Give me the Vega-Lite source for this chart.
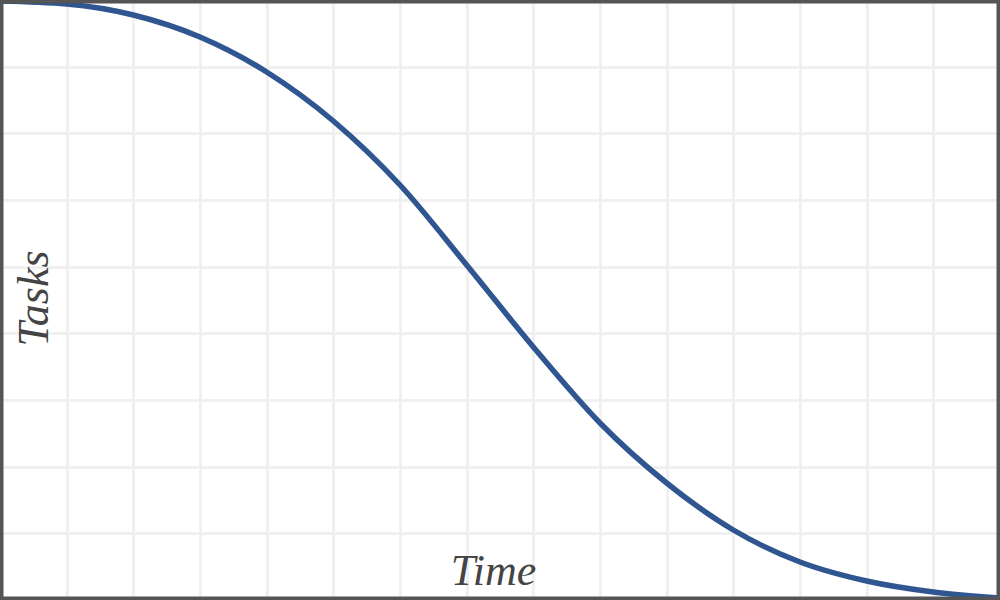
{
  "$schema": "https://vega.github.io/schema/vega-lite/v6.json",
  "width": 1000,
  "height": 600,
  "autosize": "none",
  "padding": 0,
  "background": "white",
  "config": {
    "view": {"stroke": null},
    "axis": {
      "grid": true,
      "gridColor": "#f0f0f0",
      "gridWidth": 3,
      "labels": false,
      "ticks": false,
      "domain": false,
      "titleFont": "Liberation Serif",
      "titleFontStyle": "italic",
      "titleFontWeight": "normal",
      "titleFontSize": 44,
      "titleColor": "#444444"
    }
  },
  "data": {
    "values": [
      {"t": 0, "tasks": 8.985},
      {"t": 1, "tasks": 8.94},
      {"t": 2, "tasks": 8.775},
      {"t": 3, "tasks": 8.445},
      {"t": 4, "tasks": 7.92},
      {"t": 5, "tasks": 7.185},
      {"t": 6, "tasks": 6.225},
      {"t": 7, "tasks": 5.025},
      {"t": 8, "tasks": 3.795},
      {"t": 9, "tasks": 2.655},
      {"t": 10, "tasks": 1.755},
      {"t": 11, "tasks": 1.05},
      {"t": 12, "tasks": 0.57},
      {"t": 13, "tasks": 0.285},
      {"t": 14, "tasks": 0.12},
      {"t": 15, "tasks": 0.03}
    ]
  },
  "layer": [
    {
      "mark": {"type": "line", "color": "#2f5690", "strokeWidth": 5.5, "interpolate": "monotone"},
      "encoding": {
        "x": {
          "field": "t",
          "type": "quantitative",
          "scale": {"domain": [0, 15], "nice": false, "zero": false},
          "axis": {
            "values": [1,2,3,4,5,6,7,8,9,10,11,12,13,14],
            "title": "Time",
            "titleX": 493,
            "titleY": -16,
            "titleAlign": "center",
            "titleBaseline": "alphabetic"
          }
        },
        "y": {
          "field": "tasks",
          "type": "quantitative",
          "scale": {"domain": [0, 9], "nice": false, "zero": false},
          "axis": {
            "values": [1,2,3,4,5,6,7,8],
            "title": "Tasks",
            "titleX": 47,
            "titleY": 298,
            "titleAngle": 270,
            "titleAlign": "center",
            "titleBaseline": "alphabetic"
          }
        }
      }
    },
    {
      "data": {"values": [{}]},
      "mark": {"type": "rect", "fill": null, "filled": false, "stroke": "#555555", "strokeWidth": 7},
      "encoding": {
        "x": {"datum": 0, "type": "quantitative"},
        "x2": {"datum": 15},
        "y": {"datum": 0, "type": "quantitative"},
        "y2": {"datum": 9}
      }
    }
  ]
}
